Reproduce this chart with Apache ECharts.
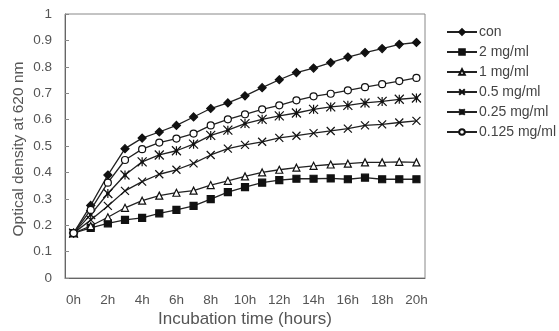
<!DOCTYPE html>
<html><head><meta charset="utf-8">
<script src="https://cdn.jsdelivr.net/npm/echarts@6/dist/echarts.min.js"></script>
<style>html,body{margin:0;padding:0;background:#fff}#c{width:559px;height:331px}</style>
</head><body><div id="c"></div>
<script>
const hours = ['0h','1h','2h','3h','4h','5h','6h','7h','8h','9h','10h','11h','12h','13h','14h','15h','16h','17h','18h','19h','20h'];
const seriesNames = ['con','2 mg/ml','1 mg/ml','0.5 mg/ml','0.25 mg/ml','0.125 mg/ml'];
const con   = [0.17,0.275,0.39,0.49,0.53,0.553,0.578,0.61,0.642,0.663,0.69,0.721,0.751,0.778,0.795,0.816,0.837,0.854,0.869,0.885,0.892];
const mg2   = [0.17,0.19,0.207,0.22,0.228,0.245,0.258,0.273,0.299,0.325,0.344,0.361,0.371,0.376,0.376,0.377,0.374,0.38,0.374,0.374,0.374];
const mg1   = [0.17,0.197,0.23,0.266,0.293,0.312,0.323,0.331,0.352,0.368,0.385,0.40,0.41,0.418,0.425,0.43,0.433,0.438,0.438,0.44,0.438];
const mg05  = [0.17,0.22,0.273,0.33,0.365,0.393,0.41,0.434,0.466,0.49,0.504,0.516,0.531,0.539,0.549,0.557,0.566,0.578,0.582,0.589,0.595];
const mg025 = [0.17,0.24,0.32,0.39,0.44,0.466,0.482,0.507,0.54,0.56,0.585,0.601,0.614,0.625,0.639,0.648,0.654,0.663,0.669,0.677,0.682];
const mg0125= [0.17,0.258,0.361,0.447,0.488,0.513,0.528,0.547,0.578,0.601,0.62,0.639,0.654,0.673,0.688,0.698,0.711,0.723,0.734,0.746,0.758];

const dataSets = [con, mg2, mg1, mg05, mg025, mg0125];
const symbols = [
  {symbol:'diamond', size:8, fill:'#111'},
  {symbol:'rect', size:7, fill:'#111'},
  {symbol:'triangle', size:7, fill:'#fff'},
  {symbol:'path://M0,0L10,10M10,0L0,10', size:8, fill:'none'},
  {symbol:'path://M0,0L10,10M10,0L0,10M5,0L5,10M3,5L7,5', size:9, fill:'none'},
  {symbol:'circle', size:7, fill:'#fff'}
];
const txt = {fontFamily:'Liberation Sans', fontSize:13.5, color:'#555'};
const chart = echarts.init(document.getElementById('c'), null, {renderer:'canvas'});
chart.setOption({
  animation:false,
  backgroundColor:'#fff',
  grid:{left:65, right:134, top:14, bottom:53, show:true, borderColor:'#888', borderWidth:1, containLabel:false, outerBoundsMode:'none'},
  legend:{
    orient:'vertical', left:441, top:17, itemWidth:30, itemHeight:7, itemGap:0,
    textStyle:{fontFamily:'Liberation Sans', fontSize:14, color:'#444', lineHeight:20, padding:[0,0,0,-3]},
    data: seriesNames
  },
  xAxis:{
    type:'category', data:hours, boundaryGap:true,
    name:'Incubation time (hours)', nameLocation:'middle', nameGap:33, nameMoveOverlap:false,
    nameTextStyle:{fontFamily:'Liberation Sans', fontSize:17, color:'#555'},
    axisLine:{lineStyle:{color:'#666', width:1}},
    axisTick:{inside:true, length:4, interval:0, lineStyle:{color:'#888'}},
    axisLabel:Object.assign({interval:1, margin:15}, txt),
    splitLine:{show:false}
  },
  yAxis:{
    type:'value', min:0, max:1, interval:0.1,
    name:'Optical density at 620 nm', nameLocation:'middle', nameGap:38, nameRotate:90, nameMoveOverlap:false,
    nameTextStyle:{fontFamily:'Liberation Sans', fontSize:15.5, color:'#555', padding:[0,6,0,0]},
    axisLine:{show:true, lineStyle:{color:'#666', width:1}},
    axisTick:{show:true, inside:true, length:4, lineStyle:{color:'#888'}},
    axisLabel:Object.assign({margin:13, formatter:v=>String(Math.round(v*10)/10)}, txt),
    splitLine:{show:false}
  },
  series: dataSets.map((d,i)=>({
    name: seriesNames[i], type:'line', data:d,
    symbol: symbols[i].symbol, symbolSize: symbols[i].size, showSymbol:true,
    lineStyle:{color:'#222', width:1.3},
    itemStyle:{color: symbols[i].fill === 'none' ? '#111' : symbols[i].fill, borderColor:'#111', borderWidth:1.2},
    z: 2 + i
  }))
});
</script>
</body></html>
